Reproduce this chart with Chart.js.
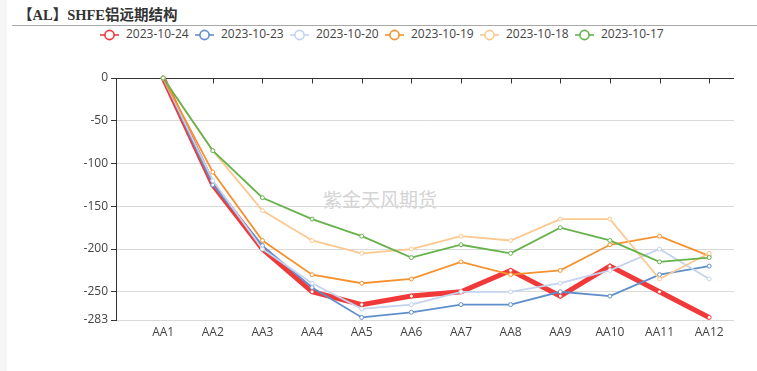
<!DOCTYPE html>
<html>
<head>
<meta charset="utf-8">
<script src="https://cdn.jsdelivr.net/npm/chart.js@4/dist/chart.umd.min.js"></script>
<style>
  html, body { margin:0; padding:0; background:#fff; }
  #wrap { position:relative; width:757px; height:371px; overflow:hidden; background:#fff; }
  #strip { position:absolute; left:0; top:0; width:7px; height:371px; background:#f6f6f6; }
  #title { position:absolute; left:18px; top:3px; font:bold 14.5px "Liberation Serif","Noto Sans CJK SC",serif; color:#333; white-space:nowrap; }
  #rule { position:absolute; left:12px; top:25px; width:745px; height:1px; background:#a8a8a8; }
  #legend { position:absolute; left:99px; top:26px; height:16px; white-space:nowrap; font:12px "Open Sans","Noto Sans",sans-serif; color:#444; }
  .item { position:absolute; top:0; height:16px; line-height:16px; }
  .item svg { position:absolute; left:0; top:3px; }
  .item span { position:absolute; left:27px; top:0; }
  #wm { position:absolute; left:323px; top:185px; font:19px "Noto Sans CJK SC",sans-serif; color:#d4d4d4; white-space:nowrap; }
  canvas { position:absolute; left:0; top:0; }
</style>
</head>
<body>
<div id="wrap">
  <div id="strip"></div>
  <div id="title">【AL】SHFE铝远期结构</div>
  <div id="rule"></div>
  <div id="legend"></div>
  <div id="wm">紫金天风期货</div>
  <canvas id="c" width="757" height="371"></canvas>
</div>
<script>
// ---- data ----
const categories = ['AA1','AA2','AA3','AA4','AA5','AA6','AA7','AA8','AA9','AA10','AA11','AA12'];
const seriesNames = ['2023-10-24','2023-10-23','2023-10-20','2023-10-19','2023-10-18','2023-10-17'];
const s20231024 = [0,-125,-200,-250,-265,-255,-250,-225,-255,-220,-250,-280];
const s20231023 = [0,-125,-196,-245,-280,-274,-265,-265,-250,-255,-230,-220];
const s20231020 = [0,-120,-200,-240,-270,-265,-250,-250,-240,-225,-200,-235];
const s20231019 = [0,-110,-190,-230,-240,-235,-215,-230,-225,-195,-185,-208];
const s20231018 = [0,-85,-155,-190,-205,-200,-185,-190,-165,-165,-235,-205];
const s20231017 = [0,-85,-140,-165,-185,-210,-195,-205,-175,-190,-215,-210];
const yTickValues = [0,-50,-100,-150,-200,-250,-283];

// ---- styles ----
const seriesValues = [s20231024,s20231023,s20231020,s20231019,s20231018,s20231017];
const colors = ['#f03a3a','#5f8fca','#c3d3f0','#f5922f','#fbc890','#66b24a'];
const widths = [5,1.8,1.8,1.8,1.8,1.8];

// legend
const leg = document.getElementById('legend');
seriesNames.forEach((n,i)=>{
  const d = document.createElement('div');
  d.className='item';
  d.style.left = (i*95)+'px';
  d.innerHTML = '<svg width="22" height="12"><line x1="1" y1="6" x2="20" y2="6" stroke="'+colors[i]+'" stroke-width="1.6"/><circle cx="10.5" cy="6" r="4.6" fill="#fff" stroke="'+colors[i]+'" stroke-width="1.6"/></svg><span>'+n+'</span>';
  leg.appendChild(d);
});

const datasets = seriesValues.map((vals,i)=>({
  label: seriesNames[i],
  data: vals.map((v,j)=>({x:j+1,y:v})),
  order: seriesValues.length - i,
  borderColor: colors[i],
  backgroundColor: '#fff',
  borderWidth: widths[i],
  pointRadius: 2,
  pointBorderWidth: 1,
  pointBorderColor: colors[i],
  pointBackgroundColor: '#fff',
  tension: 0,
  clip: false
}));

const topAxis = {
  id:'topAxis',
  beforeDatasetsDraw(chart){
    const {ctx, chartArea, scales} = chart;
    const y = Math.round(scales.y.getPixelForValue(0)) + 0.5;
    ctx.save();
    ctx.strokeStyle = '#333';
    ctx.lineWidth = 1;
    ctx.beginPath();
    ctx.moveTo(chartArea.left, y);
    ctx.lineTo(chartArea.right, y);
    categories.forEach((c,i)=>{
      const x = Math.round(scales.x.getPixelForValue(i+1)) + 0.5;
      ctx.moveTo(x, y);
      ctx.lineTo(x, y+5);
    });
    ctx.stroke();
    ctx.restore();
  }
};

new Chart(document.getElementById('c'), {
  type:'line',
  data:{ datasets },
  options:{
    responsive:false,
    animation:false,
    events:[],
    layout:{ padding:{ left:0, right:23, top:78, bottom:0 } },
    plugins:{ legend:{display:false}, title:{display:false}, tooltip:{enabled:false} },
    scales:{
      x:{
        type:'linear', min:0.05, max:12.5,
        afterBuildTicks(s){ s.ticks = categories.map((c,i)=>({value:i+1})); },
        afterFit(s){ s.height = 51; },
        grid:{ display:false, drawTicks:false },
        border:{ display:false },
        ticks:{ padding:5, color:'#444', font:{ size:12, family:'"Open Sans","Noto Sans",sans-serif' },
          callback:(v)=>categories[v-1], maxRotation:0, autoSkip:false }
      },
      y:{
        min:-283, max:0,
        afterBuildTicks(s){ s.ticks = yTickValues.map(v=>({value:v})); },
        afterFit(s){ s.width = 116; },
        grid:{ color:(c)=> (c.tick && c.tick.value===0) ? 'rgba(0,0,0,0)' : '#d9d9d9', tickColor:'#333', tickLength:5, lineWidth:1 },
        border:{ display:true, color:'#333', width:1 },
        ticks:{ padding:3, color:'#444', font:{ size:12, family:'"Open Sans","Noto Sans",sans-serif' } }
      }
    }
  },
  plugins:[topAxis]
});
</script>
</body>
</html>
